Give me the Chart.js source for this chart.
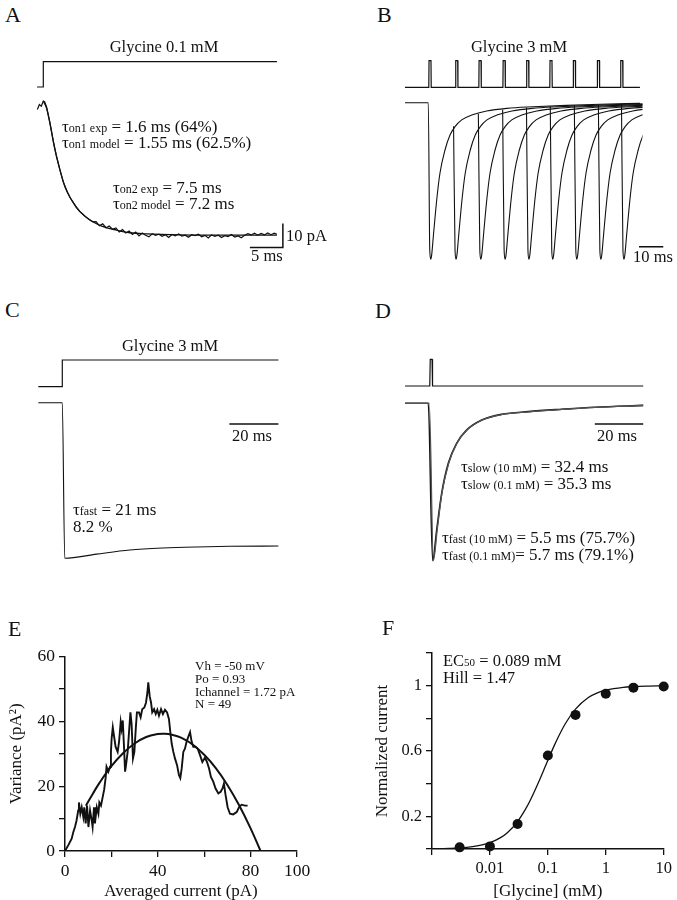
<!DOCTYPE html>
<html>
<head>
<meta charset="utf-8">
<script src="https://cdn.jsdelivr.net/npm/chart.js@4.4.1/dist/chart.umd.min.js"></script>
<style>
  body { margin: 0; background: #fff; }
  #fig { position: relative; width: 677px; height: 900px; overflow: hidden;
         font-family: "Liberation Serif", "Times New Roman", serif; color: #111; }
  #fig canvas { position: absolute; }
  .t { position: absolute; white-space: nowrap; line-height: 1; }
  .lab { font-size: 22px; }
  .ttl { font-size: 16.5px; transform: translateX(-50%); }
  .ann { font-size: 17px; }
  .ann small { font-size: 12px; }
  .bar { font-size: 16.5px; }
  .note { font-size: 13px; }
  .ec { font-size: 16.5px; }
  .ec small { font-size: 11px; }
</style>
</head>
<body>
<div id="fig">
  <canvas id="cA"></canvas>
  <canvas id="cB"></canvas>
  <canvas id="cC"></canvas>
  <canvas id="cD"></canvas>
  <canvas id="cE"></canvas>
  <canvas id="cF"></canvas>

  <div class="t lab" style="left:5px;top:4px">A</div>
  <div class="t lab" style="left:377px;top:4px">B</div>
  <div class="t lab" style="left:5px;top:299px">C</div>
  <div class="t lab" style="left:375px;top:300px">D</div>
  <div class="t lab" style="left:8px;top:618px">E</div>
  <div class="t lab" style="left:382px;top:617px">F</div>

  <div class="t ttl" style="left:164px;top:39px">Glycine 0.1 mM</div>
  <div class="t ttl" style="left:519px;top:39px">Glycine 3 mM</div>
  <div class="t ttl" style="left:170px;top:338px">Glycine 3 mM</div>

  <div class="t ann" style="left:62px;top:118px">τ<small>on1 exp</small> = 1.6 ms (64%)</div>
  <div class="t ann" style="left:62px;top:134px">τ<small>on1 model</small> = 1.55 ms (62.5%)</div>
  <div class="t ann" style="left:113px;top:179px">τ<small>on2 exp</small> = 7.5 ms</div>
  <div class="t ann" style="left:113px;top:195px">τ<small>on2 model</small> = 7.2 ms</div>
  <div class="t bar" style="left:286px;top:228px">10 pA</div>
  <div class="t bar" style="left:251px;top:248px">5 ms</div>

  <div class="t bar" style="left:633px;top:249px">10 ms</div>

  <div class="t ann" style="left:73px;top:501px">τ<small>fast</small> = 21 ms</div>
  <div class="t ann" style="left:73px;top:518px">8.2 %</div>
  <div class="t bar" style="left:232px;top:428px">20 ms</div>

  <div class="t ann" style="left:461px;top:458px">τ<small>slow (10 mM)</small> = 32.4 ms</div>
  <div class="t ann" style="left:461px;top:475px">τ<small>slow (0.1 mM)</small> = 35.3 ms</div>
  <div class="t ann" style="left:442px;top:529px">τ<small>fast (10 mM)</small> = 5.5 ms (75.7%)</div>
  <div class="t ann" style="left:442px;top:546px">τ<small>fast (0.1 mM)</small>= 5.7 ms (79.1%)</div>
  <div class="t bar" style="left:597px;top:428px">20 ms</div>

  <div class="t note" style="left:195px;top:659px">Vh = -50 mV</div>
  <div class="t note" style="left:195px;top:672px">Po = 0.93</div>
  <div class="t note" style="left:195px;top:685px">Ichannel = 1.72 pA</div>
  <div class="t note" style="left:195px;top:697px">N = 49</div>

  <div class="t ec" style="left:443px;top:653px">EC<small>50</small> = 0.089 mM</div>
  <div class="t ec" style="left:443px;top:670px">Hill = 1.47</div>
</div>

<script>
// A: onset at 0.1 mM (ms, pA)
const aCmdT = [-0.95, 0, 0, 35.4];
const aCmd = [0, 0, 1, 1];
const aExpT = [-0.9, -0.6, -0.3, 0, 0.2, 0.5, 1, 1.5, 2, 2.5, 3, 3.5, 4, 4.5, 5, 5.5, 6, 6.5, 7, 7.5,
  8, 8.5, 9, 9.5, 10, 10.5, 11, 11.5, 12, 12.5, 13, 13.5, 14, 14.5, 15, 15.5, 16, 16.5, 17, 17.5,
  18, 18.5, 19, 19.5, 20, 20.5, 21, 21.5, 22, 22.5, 23, 23.5, 24, 24.5, 25, 25.5, 26, 26.5, 27, 27.5,
  28, 28.5, 29, 29.5, 30, 30.5, 31, 31.5, 32, 32.5, 33, 33.5, 34, 34.5, 35, 35.4];
const aExp = [-3.5, -1.5, -2.2, 0, -0.3, -2.5, -9.0, -16.5, -23.0, -28.5, -33.5, -37.0, -40.0, -42.2, -44.3, -46.0, -47.2, -48.5, -49.5, -50.4,
  -50.3, -52.0, -51.2, -52.8, -52.1, -53.5, -52.9, -54.6, -53.6, -55.0, -54.2, -55.6, -54.6, -56.2, -55.0, -55.9, -56.6, -55.3, -56.0, -55.5,
  -56.4, -55.7, -56.9, -55.6, -56.2, -55.4, -56.3, -55.9, -56.8, -55.7, -56.1, -55.5, -56.6, -56.0, -57.1, -55.8, -56.4, -55.9, -56.9, -56.1,
  -56.5, -55.6, -56.7, -56.2, -57.0, -55.9, -55.3, -55.8, -55.1, -55.9, -55.2, -55.8, -55.0, -55.7, -55.1, -55.5];
const aModelT = [0, 0.5, 1, 1.77, 2.53, 3.29, 4.3, 5.56, 7.08, 8.85, 11.1, 13.1, 15.7, 20.7, 25.7, 30.8, 35.4];
const aModel = [0, -3, -9.2, -20.4, -28.8, -35.8, -41.3, -46.1, -49.6, -52.1, -53.8, -54.9, -55.4, -55.8, -55.9, -55.9, -55.9];
const aScaleBar = [5, 10]; // ms, pA

// B: paired pulses at 3 mM (ms, normalised current)
const bPulseT = [0, 11.0, 20.6, 30.5, 40.2, 49.8, 59.4, 69.3, 78.9];
const bPulseWidth = 1.0;
const bTroughT = [0.3, 10.7, 20.9, 30.9, 40.7, 50.5, 60.4, 70.3, 79.8];
const bDropFrom = [0, -0.15, -0.07, -0.045, -0.03, -0.022, -0.016, -0.012, -0.009];
const bShapeDt = [-1.0, -0.4, 0, 0.4, 1.06, 2.46, 3.81, 5.87, 7.93, 9.99, 12.74, 16.86, 23, 31.3, 42.1, 56, 69.7, 86.1];
const bShape = [0, -0.94, -1, -0.97, -0.856, -0.621, -0.449, -0.302, -0.206, -0.153, -0.11, -0.079, -0.053, -0.036, -0.026, -0.017, -0.010, -0.004];
const bScaleBar = [10]; // ms

// C: long application at 3 mM
const cCmdT = [-9.8, 0, 0, 88.2];
const cCmd = [0, 0, 1, 1];
const cTime = [-9.8, 0, 1.0, 14, 27.6, 41.1, 54.9, 68.4, 88.2];
const cCur = [0, 0, -1, -0.973, -0.947, -0.934, -0.927, -0.923, -0.921];
const cScaleBar = [20];

// D: brief pulse, 10 mM and 0.1 mM (normalised)
const dCmdT = [-10.3, -0.1, 0.1, 0.85, 1.05, 88.1];
const dCmd = [0, 0, 1, 1, 0, 0];
const dTime10 = [-10.3, -0.7, 1.1, 2.77, 4.83, 7.56, 11.0, 15.2, 21.4, 29.6, 40.6, 54.4, 68.2, 88.1];
const dCur10 = [0, 0, -1, -0.805, -0.572, -0.381, -0.254, -0.169, -0.106, -0.070, -0.053, -0.038, -0.025, -0.013];
const dTime01 = [-10.3, -0.3, 1.4, 3.0, 5.0, 7.8, 11.2, 15.4, 21.6, 29.8, 40.8, 54.6, 68.4, 88.1];
const dCur01 = [0, 0, -1, -0.80, -0.565, -0.378, -0.252, -0.168, -0.106, -0.071, -0.054, -0.039, -0.026, -0.014];
const dScaleBar = [20];

// E: variance vs mean current
const eCurrent = [0, 1.44, 2.87, 3.6, 4.3, 5.0, 5.7, 6.0, 6.6, 7.2, 7.9, 8.3, 8.9, 9.5, 10.1, 10.8, 11.5, 11.9, 12.5, 12.9,
  13.7, 14.4, 14.8, 15.5, 16.2, 16.9, 17.5, 17.9, 18.7, 19.4, 19.8, 20.1, 20.6, 21.3, 21.8, 22.7, 23.3, 24.0, 24.4, 24.9,
  25.4, 25.9, 26.3, 27.0, 27.6, 28.2, 28.7, 29.3, 29.9, 30.5, 31.0, 31.9, 32.6, 33.3, 34.2, 34.9, 35.5, 35.9, 36.5, 37.1,
  37.6, 38.4, 39.1, 39.8, 40.5, 41.4, 42.2, 43.1, 44.0, 44.8, 45.4, 46.0, 46.7, 47.4, 48.3, 49.1, 49.7, 50.3, 51.0, 51.7,
  52.4, 53.1, 53.9, 54.6, 55.3, 56.3, 57.2, 58.2, 59.2, 60.3, 61.2, 62.1, 62.9, 63.9, 64.9, 66.1, 67.1, 67.9, 68.5, 69.2,
  70.1, 71.1, 72.5, 74.0, 75.0, 76.1, 77.6, 78.7];
const eVariance = [0, 1.8, 3.8, 5.9, 7.4, 9.5, 12.5, 15.0, 11.5, 13.5, 10.5, 13.5, 8.5, 14, 7.4, 12.5, 9.5, 7.4, 13.5, 8.5,
  13.5, 11.5, 15, 14, 16.5, 19, 22.5, 26, 24.5, 26, 30.6, 34.7, 38.2, 34.7, 32.2, 30.6, 33.7, 39.8, 37.7, 40.3,
  32.7, 24.5, 26.5, 30.6, 36.7, 42.8, 39.3, 28.6, 30.6, 37.7, 42.8, 42.8, 41.3, 43.8, 44.3, 45.8, 48.8, 52.1, 47.8, 45.8,
  42.8, 43.8, 42.3, 43.6, 41.8, 43.8, 42.3, 43.6, 42.8, 40.8, 36.7, 33.1, 30.6, 28.6, 26.5, 23.5, 22.5, 25.5, 30.6, 31.6,
  33.7, 35.2, 36.7, 33.7, 32.2, 32.2, 31.6, 29.6, 27.5, 28.8, 27.5, 25.5, 22.9, 21.4, 19.3, 17.8, 18.3, 19.3, 20.8, 17.3,
  13.5, 11.5, 11.3, 12, 13.5, 14.3, 14, 14];
const eFitI = [9, 12, 15, 20, 25, 30, 35, 40, 43, 46, 50, 55, 60, 65, 70, 75, 80, 84.3];
const eFitV = [14.0, 17.7, 21.2, 26.2, 30.2, 33.2, 35.2, 36.1, 36.2, 35.9, 35.0, 32.9, 29.7, 25.6, 20.4, 14.2, 7.0, 0];
const eXTicks = [0, 20, 40, 60, 80, 100];
const eXLabels = [0, 40, 80, 100];
const eYTicks = [0, 10, 20, 30, 40, 50, 60];
const eYLabels = [0, 20, 40, 60];

// F: dose-response
const fConc = [0.003, 0.01, 0.03, 0.1, 0.3, 1, 3, 10];
const fNorm = [0.01, 0.016, 0.153, 0.572, 0.821, 0.95, 0.988, 0.995];
const fFitConc = [0.0014, 0.002, 0.003, 0.005, 0.007, 0.01, 0.015, 0.02, 0.03, 0.04, 0.05, 0.07, 0.089, 0.1,
  0.13, 0.15, 0.2, 0.3, 0.5, 0.7, 1, 2, 3, 5, 10];
const fFitNorm = [0.0022, 0.0038, 0.0068, 0.0143, 0.0233, 0.0386, 0.068, 0.1, 0.168, 0.236, 0.3, 0.413, 0.5, 0.543,
  0.636, 0.683, 0.767, 0.856, 0.927, 0.954, 0.972, 0.99, 0.994, 0.997, 0.999];
const fXTicks = [0.001, 0.01, 0.1, 1, 10];
const fXLabels = [0.01, 0.1, 1, 10];
const fYTicks = [0, 0.2, 0.4, 0.6, 0.8, 1, 1.2];
const fYLabels = [0.2, 0.6, 1];

const ink = '#111';
Chart.defaults.font.family = '"Liberation Serif", "Times New Roman", serif';
Chart.defaults.color = ink;

function pts(xs, ys) {
  return xs.map((x, i) => ({ x, y: ys[i] }));
}
function line(xs, ys, extra) {
  return Object.assign({ data: pts(xs, ys), borderColor: ink, borderWidth: 1.2,
    pointRadius: 0, tension: 0, yAxisID: 'y' }, extra || {});
}
function place(cv, left, top, w, h) {
  cv.width = w; cv.height = h;
  cv.style.left = left + 'px'; cv.style.top = top + 'px';
  cv.style.width = w + 'px'; cv.style.height = h + 'px';
}
// pixel box -> data limits, given pixel of zero and pixels per unit
function spanX(l, r, p0, k) { return [(l - p0) / k, (r - p0) / k]; }
function spanY(t, b, p0, k) { return [(p0 - b) / k, (p0 - t) / k]; }

function traceChart(id, area, padRight, xm, ym, cm, datasets) {
  const cv = document.getElementById(id);
  place(cv, area.l, area.t, area.r - area.l + padRight, area.b - area.t);
  const [x0, x1] = spanX(area.l, area.r, xm[0], xm[1]);
  const [y0, y1] = spanY(area.t, area.b, ym[0], ym[1]);
  const [c0, c1] = spanY(area.t, area.b, cm[0], cm[1]);
  return new Chart(cv, {
    type: 'line',
    data: { datasets },
    options: {
      responsive: false, animation: false, events: [],
      layout: { padding: { left: 0, top: 0, bottom: 0, right: padRight } },
      plugins: { legend: { display: false }, tooltip: { enabled: false } },
      scales: {
        x: { type: 'linear', display: false, min: x0, max: x1 },
        y: { type: 'linear', display: false, min: y0, max: y1 },
        yc: { type: 'linear', display: false, min: c0, max: c1 },
      },
    },
  });
}

// panel A
traceChart('cA', { l: 30, t: 50, r: 300, b: 265 }, 0, [43.3, 6.6], [101, 2.4], [87, 25.3], [
  line(aCmdT, aCmd, { yAxisID: 'yc' }),
  line(aExpT, aExp, { borderWidth: 1.2 }),
  line(aModelT, aModel, { borderWidth: 1.3, cubicInterpolationMode: 'monotone' }),
  line([36.3 - aScaleBar[0], 36.3, 36.3], [-61, -61, -61 + aScaleBar[1]], { borderWidth: 1.5, clip: false }),
]);

// panel B: command train and overlaid sweeps
const bCmdX = [-10.3], bCmdY = [0];
bPulseT.forEach(p => {
  bCmdX.push(p - bPulseWidth / 2, p - bPulseWidth / 2 + 0.1, p + bPulseWidth / 2 - 0.1, p + bPulseWidth / 2);
  bCmdY.push(0, 1, 1, 0);
});
bCmdX.push(86.4); bCmdY.push(0);
const bSweeps = bTroughT.map((tr, k) => {
  const xs = bShapeDt.map(dt => tr + dt);
  const ys = bShape.slice();
  ys[0] = bDropFrom[k];
  if (k === 0) { xs.unshift(-10.3); ys.unshift(0); }
  return line(xs, ys, { borderWidth: 1.1, cubicInterpolationMode: 'monotone' });
});
traceChart('cB', { l: 400, t: 50, r: 642.5, b: 275 }, 32.5, [430, 2.43], [102.7, 156.6], [87.3, 26.6], [
  line(bCmdX, bCmdY, { yAxisID: 'yc', clip: false }),
  ...bSweeps,
  line([96 - bScaleBar[0], 96], [-0.92, -0.92], { borderWidth: 1.5, clip: false }),
]);

// panel C
traceChart('cC', { l: 30, t: 340, r: 290, b: 575 }, 0, [62.3, 2.45], [402.7, 155.6], [386.7, 26.7], [
  line(cCmdT, cCmd, { yAxisID: 'yc' }),
  line(cTime, cCur, { borderWidth: 1.1, cubicInterpolationMode: 'monotone' }),
  line([88.2 - cScaleBar[0], 88.2], [-0.137, -0.137], { borderWidth: 1.5, clip: false }),
]);

// panel D
traceChart('cD', { l: 400, t: 340, r: 660, b: 575 }, 0, [430, 2.42], [403.3, 157.4], [386, 26.7], [
  line(dCmdT, dCmd, { yAxisID: 'yc' }),
  line(dTime01, dCur01, { borderWidth: 1.3, borderColor: '#555', cubicInterpolationMode: 'monotone' }),
  line(dTime10, dCur10, { borderWidth: 1.6, cubicInterpolationMode: 'monotone' }),
  line([88.1 - dScaleBar[0], 88.1], [-0.132, -0.132], { borderWidth: 1.5, clip: false }),
]);

// shared axis look for E and F
function axis(base, ticksAt, labels, titleText, size, fontSize, titlePad, isX) {
  return Object.assign({
    afterBuildTicks: s => { s.ticks = ticksAt.map(v => ({ value: v })); },
    afterFit: s => { if (isX) s.height = size; else s.width = size; },
    ticks: { autoSkip: false, maxRotation: 0, padding: 4, color: ink, font: { size: fontSize },
      callback: v => labels.includes(v) ? String(v) : '' },
    grid: { drawOnChartArea: false, drawTicks: true, tickLength: 6, color: ink, lineWidth: 1.3 },
    border: { display: true, color: ink, width: 1.5 },
    title: { display: true, text: titleText, color: ink, font: { size: 17, lineHeight: 1 }, padding: titlePad },
  }, base);
}

// panel E
const cvE = document.getElementById('cE');
place(cvE, 0, 600, 330, 300);
new Chart(cvE, {
  type: 'line',
  data: { datasets: [
    line(eCurrent, eVariance, { borderWidth: 1.9 }),
    line(eFitI, eFitV, { borderWidth: 2, tension: 0.4 }),
  ] },
  options: {
    responsive: false, animation: false, events: [],
    layout: { padding: { left: 0, top: 56.7, right: 33, bottom: 0 } },
    plugins: { legend: { display: false }, tooltip: { enabled: false } },
    scales: {
      x: axis({ type: 'linear', min: 0, max: 100 }, eXTicks, eXLabels, 'Averaged current (pA)', 49, 17.5, { top: 0, bottom: 0 }, true),
      y: axis({ type: 'linear', min: 0, max: 60 }, eYTicks, eYLabels, 'Variance (pA²)', 65, 17.5, { top: 8.5, bottom: 0 }, false),
    },
  },
});

// panel F
const cvF = document.getElementById('cF');
place(cvF, 340, 600, 337, 300);
new Chart(cvF, {
  type: 'line',
  data: { datasets: [
    line(fFitConc, fFitNorm, { borderWidth: 1.3, cubicInterpolationMode: 'monotone' }),
    line(fConc, fNorm, { showLine: false, pointRadius: 5, pointBackgroundColor: ink,
      pointBorderColor: ink, pointBorderWidth: 0, clip: false }),
  ] },
  options: {
    responsive: false, animation: false, events: [],
    layout: { padding: { left: 0, top: 53, right: 13.3, bottom: 0 } },
    plugins: { legend: { display: false }, tooltip: { enabled: false } },
    scales: {
      x: axis({ type: 'logarithmic', min: 0.001, max: 10 }, fXTicks, fXLabels, '[Glycine] (mM)', 51, 16.5, { top: 0, bottom: 0 }, true),
      y: axis({ type: 'linear', min: 0, max: 1.2 }, fYTicks, fYLabels, 'Normalized current', 92, 16.5, { top: 34.5, bottom: 0 }, false),
    },
  },
});
</script>
</body>
</html>
